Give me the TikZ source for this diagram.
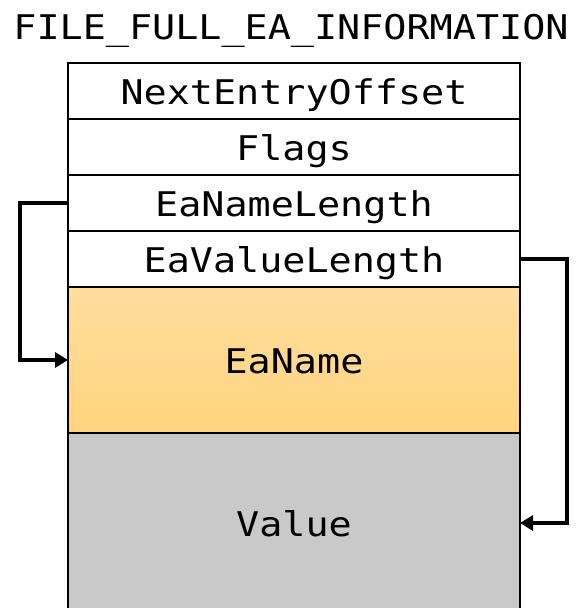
\documentclass[tikz,border=0pt]{standalone}
\usepackage{fontspec}
\setmonofont[FakeStretch=1.13]{DejaVu Sans Mono}
\usetikzlibrary{arrows.meta,positioning}
\definecolor{nametop}{HTML}{FFDD9E}
\definecolor{namebot}{HTML}{FFD47E}
\definecolor{valgray}{HTML}{C9C9C9}
\tikzset{
  lblfont/.style={font=\ttfamily\fontsize{34}{36}\selectfont},
  fld/.style={lblfont, draw=black, line width=2pt, minimum width=452pt, inner sep=0pt, outer sep=0pt,
    text height=26pt, text depth=0pt},
  lnk/.style={line width=4pt, -{Triangle[length=13pt,width=15pt]}},
}
\begin{document}
\begin{tikzpicture}[x=1pt,y=-1pt]
\useasboundingbox (0,0) rectangle (577,608);
\clip (0,0) rectangle (577,608);
\node[lblfont, anchor=base] (title) at (291,39) {FILE\_FULL\_EA\_INFORMATION};
\node[fld, fill=white, minimum height=56pt] (neo) at (294,91) {NextEntryOffset};
\node[fld, fill=white, minimum height=56pt] (flags) at (294,147) {Flags};
\node[fld, fill=white, minimum height=56pt] (enl) at (294,203) {EaNameLength};
\node[fld, fill=white, minimum height=56pt] (evl) at (294,259) {EaValueLength};
\node[fld, top color=nametop, bottom color=namebot, minimum height=146pt] (name) at (294,360) {EaName};
\node[fld, fill=valgray, minimum height=180pt] (value) at (294,523) {Value};
\coordinate (l1) at (20,203);
\coordinate (r1) at (567,259);
\draw[lnk] (enl.west) -- (l1) |- (name.west);
\draw[lnk] (evl.east) -- (r1) |- (value.east);
\end{tikzpicture}
\end{document}
